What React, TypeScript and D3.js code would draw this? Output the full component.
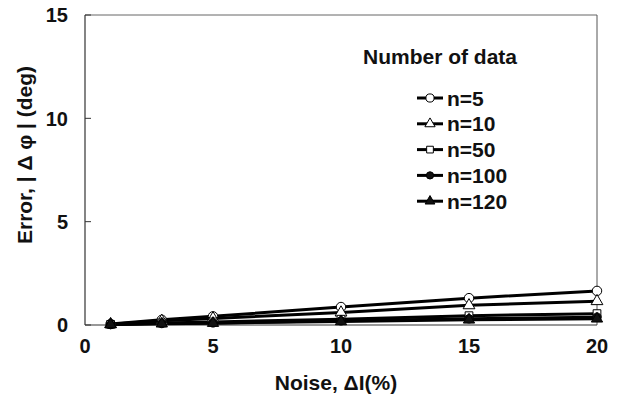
import React from 'react'
import * as d3 from 'd3'

const noise = [1, 3, 5, 10, 15, 20]
const seriesNames = ['n=5', 'n=10', 'n=50', 'n=100', 'n=120']
const n5 = [0.05, 0.25, 0.42, 0.87, 1.3, 1.65]
const n10 = [0.04, 0.2, 0.32, 0.6, 0.95, 1.15]
const n50 = [0.03, 0.1, 0.15, 0.28, 0.45, 0.55]
const n100 = [0.02, 0.07, 0.1, 0.2, 0.3, 0.38]
const n120 = [0.02, 0.06, 0.09, 0.17, 0.25, 0.3]
const xTicks = [0, 5, 10, 15, 20]
const yTicks = [0, 5, 10, 15]

const allSeries = [n5, n10, n50, n100, n120]
const markers = [
  { type: d3.symbolCircle, fill: '#fff', size: 70 },
  { type: d3.symbolTriangle, fill: '#fff', size: 60 },
  { type: d3.symbolSquare, fill: '#fff', size: 60 },
  { type: d3.symbolCircle, fill: '#111', size: 55 },
  { type: d3.symbolTriangle, fill: '#111', size: 55 },
]

const W = 621
const H = 397
const font = '"Liberation Sans", Arial, Helvetica, sans-serif'

export default function App() {
  const x = d3.scaleLinear().domain([0, 20]).range([85, 597])
  const y = d3.scaleLinear().domain([0, 15]).range([325, 15])

  const line = d3.line<number>()
    .x((d, i) => x(noise[i]))
    .y(d => y(d))

  // legend position
  const legX = 417
  const legY = 98
  const legStep = 25.8

  return (
    <svg width={W} height={H} style={{ position: 'absolute', left: 0, top: 0, background: '#fff' }}
      fontFamily={font} fontWeight="bold" fill="#111">
      {/* frame */}
      <line x1={x(0)} x2={x(20)} y1={y(15)} y2={y(15)} stroke="#666" strokeWidth={1} />
      <line x1={x(20)} x2={x(20)} y1={y(15)} y2={y(0)} stroke="#555" strokeWidth={1} />
      <line x1={x(0)} x2={x(0)} y1={y(15)} y2={y(0)} stroke="#333" strokeWidth={1.2} />
      <line x1={x(0)} x2={x(20)} y1={y(0)} y2={y(0)} stroke="#333" strokeWidth={1.2} />

      {yTicks.map(t => (
        <g key={'y' + t}>
          <line x1={x(0)} x2={x(0) + 6} y1={y(t)} y2={y(t)} stroke="#333" />
          <text x={68} y={y(t)} dy="0.36em" textAnchor="end" fontSize={20}>{t}</text>
        </g>
      ))}
      {xTicks.map(t => (
        <text key={'x' + t} x={x(t)} y={353} textAnchor="middle" fontSize={20}>{t}</text>
      ))}

      <text x={336} y={390} textAnchor="middle" fontSize={21}>Noise, ΔI(%)</text>
      <text transform={`translate(32,155) rotate(-90)`} textAnchor="middle" fontSize={20}
        textLength={178} lengthAdjust="spacingAndGlyphs">
        Error,  | Δ φ | (deg)
      </text>

      {/* series lines */}
      {allSeries.map((s, i) => (
        <path key={'l' + i} d={line(s) || ''} fill="none" stroke="#000" strokeWidth={3} />
      ))}
      {allSeries.map((s, i) => (
        <g key={'m' + i}>
          {s.map((v, j) => (
            <path key={j} transform={`translate(${x(noise[j])},${y(v)})`}
              d={d3.symbol().type(markers[i].type).size(markers[i].size)() || ''}
              fill={markers[i].fill} stroke="#000" strokeWidth={1} />
          ))}
        </g>
      ))}

      {/* legend */}
      <text x={440} y={64} textAnchor="middle" fontSize={21}>Number of data</text>
      {seriesNames.map((name, i) => (
        <g key={name} transform={`translate(${legX},${legY + i * legStep})`}>
          <line x1={0} x2={26} y1={0} y2={0} stroke="#000" strokeWidth={3} />
          <path transform="translate(13,0)"
            d={d3.symbol().type(markers[i].type).size(markers[i].size * 0.75)() || ''}
            fill={markers[i].fill} stroke="#000" strokeWidth={1} />
          <text x={30} y={0} dy="0.36em" fontSize={21}>{name}</text>
        </g>
      ))}
    </svg>
  )
}
